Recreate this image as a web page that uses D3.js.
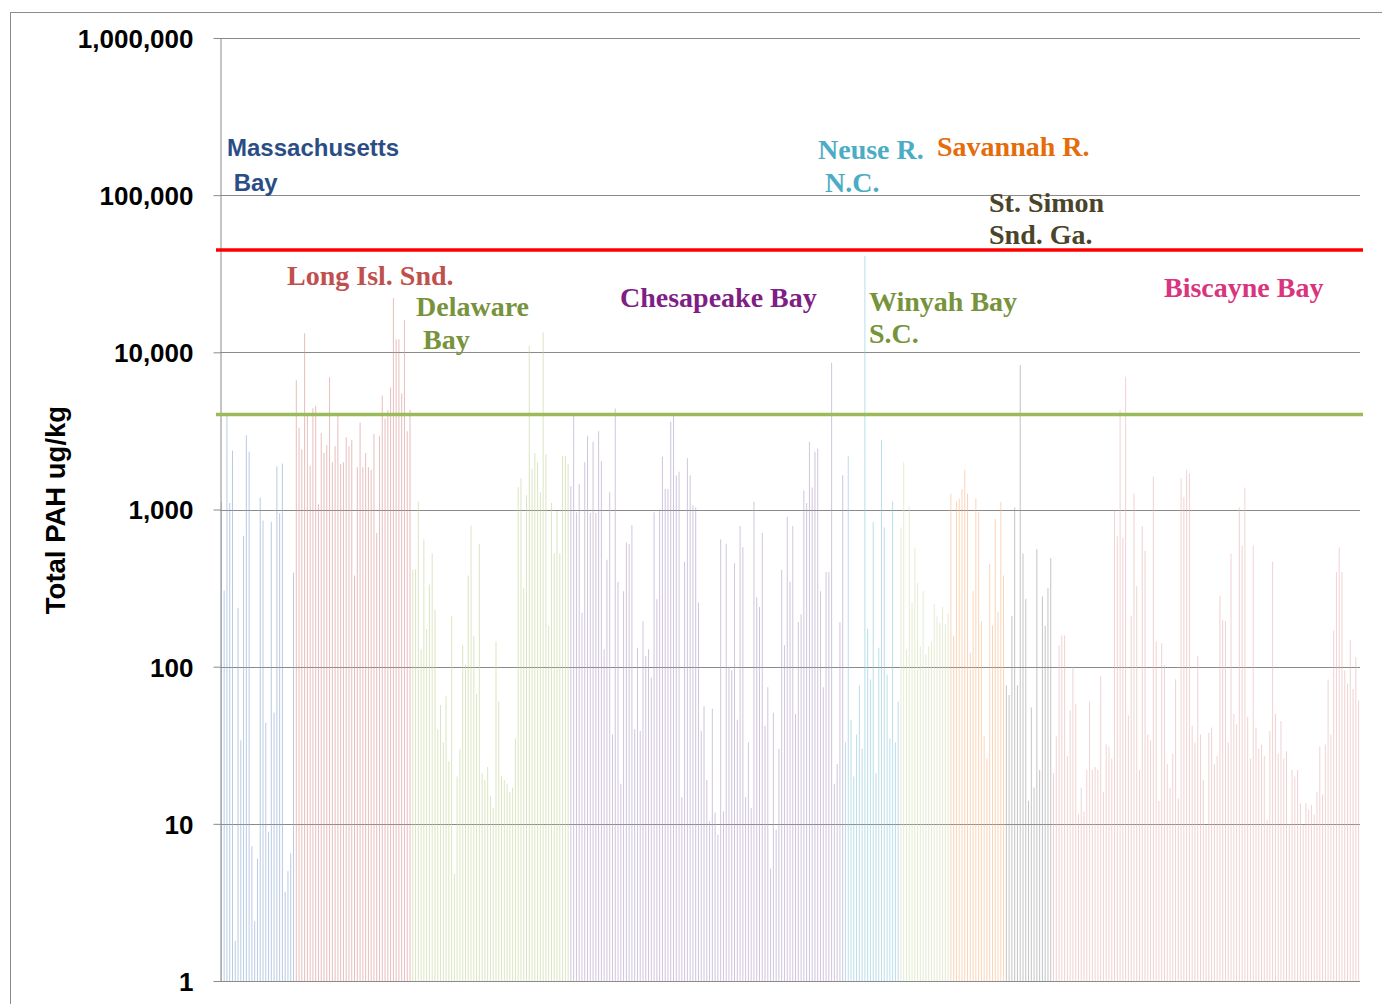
<!DOCTYPE html>
<html>
<head>
<meta charset="utf-8">
<script src="https://cdn.jsdelivr.net/npm/d3@7"></script>
<style>
  html, body { margin: 0; padding: 0; background: #fff; }
  svg { display: block; }
</style>
</head>
<body>
<svg id="chart" width="1382" height="1004"></svg>
<script>
// Total PAH (ug/kg) per sediment sample, grouped by estuary
const massachusettsBay = [1117, 305, 3990, 1100, 2370, 1.8, 237, 34, 680, 2970, 2330, 7.2, 2.4, 6.0, 1190, 850, 44, 8.9, 835, 51, 1880, 946, 1960, 3.7, 5.0, 6.5, 396];
const longIslandSound = [6640, 3320, 2410, 13200, 4020, 1900, 4400, 4570, 1080, 3070, 2290, 2570, 6950, 2000, 2530, 3940, 1950, 2000, 2880, 2530, 2770, 380, 1860, 3570, 1860, 2290, 1860, 1790, 3030, 710, 2940, 5310, 3790, 4300, 5970, 22100, 12100, 12100, 5480, 16100, 3150, 4300];
const delawareBay = [413, 417, 1120, 129, 645, 174, 333, 525, 230, 40, 57, 33, 65, 25, 209, 4.8, 20, 30, 137, 103, 380, 790, 157, 67, 605, 21, 19, 23, 15, 12.6, 144, 60, 20,
  19, 18, 16, 17, 35, 1390, 1580, 316, 1230, 11000, 1820, 2290, 2000, 1290, 13400, 2240, 182, 1100, 525, 980, 525, 2190, 2190, 1950];
const chesapeakeBay = [1410, 3990, 960, 1450, 220, 2000, 2940, 950, 2700, 950, 3150,
  2030, 129, 479, 1290, 37, 4390, 347, 18, 302, 617, 603, 795, 40, 132, 39, 195, 117, 129, 85, 960, 269, 1000, 2170, 1350, 1350, 3620, 4000, 1650, 1740, 14.8, 466, 2120, 1650, 1060,
  1030, 256, 39, 56, 19, 10.4, 54, 11.8, 8.5, 645, 12, 605, 100, 95, 454, 46, 785, 576, 14.8, 33, 12.6, 1120, 277, 240, 710, 42, 74, 5.2, 51, 9.2, 30, 413, 137, 900,
  347, 785, 50, 192, 215, 1320, 1100, 2700, 1380, 2330, 2440, 302, 74, 400, 400, 8600, 18, 24, 192, 1650];
const neuseRiver = [33, 2190, 46, 20, 37, 76, 30, 41000, 174, 83, 830, 21, 132, 2770, 770, 89, 35, 1120, 33, 60];
const winyahBay = [770, 2000, 129, 1050, 256, 570, 340, 135, 302, 120, 135, 144, 251, 209, 190, 240, 186, 219];
const savannahRiver = [1260, 157, 1120, 1170, 1350, 1790, 1260, 123, 302, 1180, 960, 195, 36, 26, 450, 183, 870, 222, 1120, 380];
const stSimonSound = [76, 66, 210, 1030, 76, 8300, 525, 270, 14, 55, 17, 560, 22, 280, 182, 316, 490];
const biscayneBay = [21, 36, 137, 158, 158, 27, 53, 100,
  58, 11.5, 17, 12, 22, 60, 22, 23, 22, 87, 16, 32, 31, 26, 980, 675, 4300, 660, 7000, 49, 210, 1260, 325, 22, 785, 545, 37, 34, 1620, 145, 14, 141, 102, 24,
  17, 28, 83, 14.5, 1580, 1200, 1790, 1700, 42, 33, 117, 37, 19, 9.8, 38, 41, 24, 27, 283, 198, 195, 33, 525, 50, 43, 1030, 590, 1380, 48, 26, 590, 41, 30, 32,
  27, 10.6, 39, 466, 50, 28, 45, 26, 29, 10, 22, 20, 22, 13.5, 9.8, 13.5, 12.3, 13.2, 11.5, 16, 31, 15.4, 32, 83, 37, 170, 400, 575, 400, 95, 78, 148, 72, 115, 61];

// Sediment quality guidelines for total PAH
const effectsRangeLow = 4022;
const effectsRangeMedian = 44792;

const yTickValues = [1, 10, 100, 1000, 10000, 100000, 1000000];
const yTitle = "Total PAH ug/kg";

// Estuary groups: series, bar tint, label text and label colour
const estuaries = [
  { name: "Massachusetts Bay", values: massachusettsBay, bar: "#8eabd3", label: ["Massachusetts", " Bay"], color: "#2a4d86", sans: true },
  { name: "Long Isl. Snd.", values: longIslandSound, bar: "#d99694", label: ["Long Isl. Snd."], color: "#c0504d" },
  { name: "Delaware Bay", values: delawareBay, bar: "#c3d69b", label: ["Delaware", " Bay"], color: "#77933c" },
  { name: "Chesapeake Bay", values: chesapeakeBay, bar: "#b3a2c7", label: ["Chesapeake Bay"], color: "#7f1f86" },
  { name: "Neuse R. N.C.", values: neuseRiver, bar: "#8fcadb", label: ["Neuse R.", " N.C."], color: "#4bacc6" },
  { name: "Winyah Bay S.C.", values: winyahBay, bar: "#d3e0b5", label: ["Winyah Bay", "S.C."], color: "#77933c" },
  { name: "Savannah R.", values: savannahRiver, bar: "#f8b98a", label: ["Savannah R."], color: "#e46c0a" },
  { name: "St. Simon Snd. Ga.", values: stSimonSound, bar: "#a0a0a0", label: ["St. Simon", "Snd. Ga."], color: "#4a452a" },
  { name: "Biscayne Bay", values: biscayneBay, bar: "#e8b7b8", label: ["Biscayne Bay"], color: "#d9357d" }
];

// Label anchor positions (baseline of first line) and line spacing
const labelLayout = {
  "Massachusetts Bay": { x: 227, y: 156, dy: 35 },
  "Long Isl. Snd.": { x: 287, y: 285, dy: 33 },
  "Delaware Bay": { x: 416, y: 316, dy: 33 },
  "Chesapeake Bay": { x: 620, y: 307, dy: 33 },
  "Neuse R. N.C.": { x: 818, y: 159, dy: 33 },
  "Winyah Bay S.C.": { x: 869, y: 311, dy: 32 },
  "Savannah R.": { x: 937, y: 156, dy: 33 },
  "St. Simon Snd. Ga.": { x: 989, y: 212, dy: 32 },
  "Biscayne Bay": { x: 1164, y: 297, dy: 33 }
};

const samples = [];
estuaries.forEach(g => g.values.forEach(v => samples.push({ group: g, value: v })));

const svg = d3.select("#chart");
const plot = { left: 220, right: 1360, top: 38, bottom: 981 };

const x = d3.scaleBand().domain(d3.range(samples.length)).range([plot.left, plot.right]).paddingInner(0);
const y = d3.scaleLog().domain([1, 1000000]).range([plot.bottom, plot.top]);

// Outer chart frame
svg.append("rect")
  .attr("x", 10.5).attr("y", 12.5).attr("width", 1380).attr("height", 1000)
  .attr("fill", "none").attr("stroke", "#8c8c8c").attr("stroke-width", 1);

// Horizontal gridlines
svg.append("g").selectAll("line").data(yTickValues.slice(1)).join("line")
  .attr("x1", plot.left).attr("x2", plot.right)
  .attr("y1", d => Math.round(y(d)) + 0.5).attr("y2", d => Math.round(y(d)) + 0.5)
  .attr("stroke", "#8a8a8a").attr("stroke-width", 1);

// Sample bars
svg.append("g").selectAll("rect").data(samples).join("rect")
  .attr("x", (d, i) => x(i) + x.bandwidth() / 2 - 0.5)
  .attr("width", 1)
  .attr("y", d => y(d.value))
  .attr("height", d => y(1) - y(d.value))
  .attr("fill", d => d.group.bar)
  .attr("fill-opacity", 0.62);

// Y axis
const yAxis = d3.axisLeft(y)
  .tickValues(yTickValues)
  .tickFormat(d3.format(","))
  .tickSizeInner(7).tickSizeOuter(0).tickPadding(20);
const gy = svg.append("g").attr("transform", `translate(${plot.left + 0.5},0)`).call(yAxis);
gy.select(".domain").attr("stroke", "#8a8a8a");
gy.selectAll(".tick line").attr("stroke", "#8a8a8a");
gy.selectAll(".tick text")
  .attr("font-family", "'Liberation Sans', Arial, sans-serif")
  .attr("font-weight", "bold").attr("font-size", 26).attr("fill", "#000")
  .attr("dy", "0.36em");

// Baseline
svg.append("line")
  .attr("x1", plot.left).attr("x2", plot.right)
  .attr("y1", plot.bottom + 0.5).attr("y2", plot.bottom + 0.5)
  .attr("stroke", "#8a8a8a");

// Guideline reference lines
svg.append("line")
  .attr("x1", 216).attr("x2", 1363)
  .attr("y1", y(effectsRangeLow)).attr("y2", y(effectsRangeLow))
  .attr("stroke", "#9bbb59").attr("stroke-width", 3.5);
svg.append("line")
  .attr("x1", 216).attr("x2", 1363)
  .attr("y1", y(effectsRangeMedian)).attr("y2", y(effectsRangeMedian))
  .attr("stroke", "#ff0000").attr("stroke-width", 3.5);

// Y axis title
svg.append("text")
  .attr("transform", `translate(65,510) rotate(-90)`)
  .attr("text-anchor", "middle")
  .attr("font-family", "'Liberation Sans', Arial, sans-serif")
  .attr("font-weight", "bold").attr("font-size", 27.5)
  .text(yTitle);

// Estuary labels
estuaries.forEach(g => {
  const pos = labelLayout[g.name];
  const t = svg.append("text")
    .attr("x", pos.x).attr("y", pos.y)
    .attr("fill", g.color)
    .attr("font-weight", "bold")
    .attr("font-family", g.sans ? "'Liberation Sans', Arial, sans-serif" : "'Liberation Serif', 'Times New Roman', serif")
    .attr("font-size", g.sans ? 24 : 28)
    .attr("xml:space", "preserve")
    .style("white-space", "pre");
  g.label.forEach((line, k) => {
    t.append("tspan").attr("x", pos.x).attr("y", pos.y + k * pos.dy).text(line);
  });
});
</script>
</body>
</html>
